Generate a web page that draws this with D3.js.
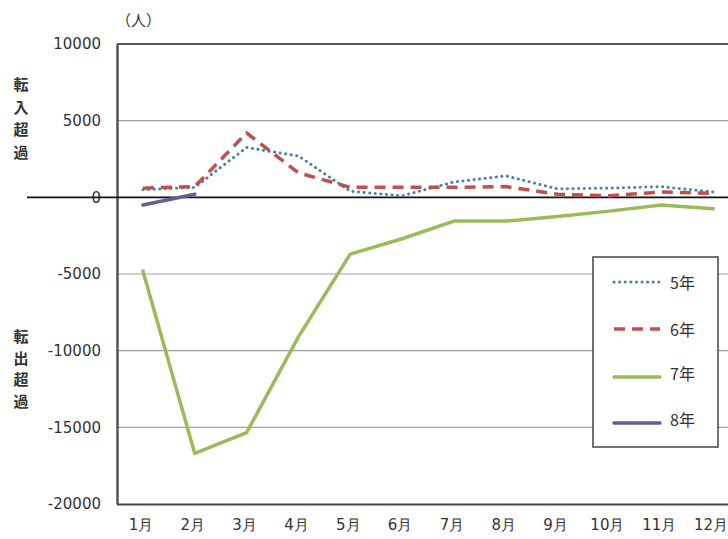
<!DOCTYPE html>
<html><head><meta charset="utf-8">
<script src="https://cdn.jsdelivr.net/npm/d3@7"></script>
<style>body{margin:0;background:#fff;} svg{display:block;}</style>
</head><body>
<svg id="c" width="728" height="539"></svg>
<script>
const months = ["1月","2月","3月","4月","5月","6月","7月","8月","9月","10月","11月","12月"];
const yTicks = [10000, 5000, 0, -5000, -10000, -15000, -20000];
const seriesNames = ["5年","6年","7年","8年"];
const s5 = [500, 650, 3250, 2700, 400, 100, 1000, 1400, 550, 600, 700, 350];
const s6 = [600, 700, 4200, 1600, 650, 650, 650, 700, 200, 100, 350, 250];
const s7 = [-4800, -16700, -15350, -9100, -3700, -2700, -1550, -1550, -1250, -900, -500, -750];
const s8 = [-500, 200];

const svg = d3.select("#c");
const font = "'DejaVu Sans', sans-serif";
const L = 117, T = 44, B = 504, R = 739;
const x = d3.scaleBand().domain(months).range([L, R]).paddingInner(0).paddingOuter(0);
const y = d3.scaleLinear().domain([-20000, 10000]).range([B, T]);
const cx = m => x(m) + x.bandwidth()/2;

// gridlines
svg.append("g").selectAll("line").data(yTicks.filter(v => v !== 0 && v !== 10000 && v !== -20000)).join("line")
  .attr("x1", L).attr("x2", 728).attr("y1", d => y(d)).attr("y2", d => y(d))
  .attr("stroke", "#a0a0a0").attr("stroke-width", 1.2);
// top border
svg.append("line").attr("x1", L).attr("x2", 728).attr("y1", T).attr("y2", T).attr("stroke", "#555").attr("stroke-width", 2);
// y axis
const yAxis = d3.axisLeft(y).tickValues(yTicks).tickSize(0).tickPadding(16).tickFormat(d => String(d));
const ga = svg.append("g").attr("transform", `translate(${L},0)`).call(yAxis);
ga.select(".domain").attr("stroke", "#555").attr("stroke-width", 2.5);
ga.selectAll("text").attr("font-family", font).attr("font-size", 15).attr("fill", "#333");
// x axis
const xAxis = d3.axisBottom(x).tickSize(0).tickPadding(15);
const gx = svg.append("g").attr("transform", `translate(0,${B})`).call(xAxis);
gx.select(".domain").attr("stroke", "#444").attr("stroke-width", 2).attr("d", `M${L},0.5H728`);
gx.selectAll("text").attr("font-family", font).attr("font-size", 15).attr("fill", "#333").attr("dx", -2);

// zero line
svg.append("line").attr("x1", 27).attr("x2", 728).attr("y1", y(0)).attr("y2", y(0)).attr("stroke", "#111").attr("stroke-width", 1.6);

const line = d3.line().x((d, i) => cx(months[i])).y(d => y(d));
const styles = [
  {data: s5, color: "#4a7fa8", width: 3, dash: "0.1 5.5", cap: "round"},
  {data: s6, color: "#c0504d", width: 3.5, dash: "11 7", cap: "butt"},
  {data: s7, color: "#9bbb59", width: 3.5, dash: null, cap: "round"},
  {data: s8, color: "#6b5b95", width: 3.5, dash: null, cap: "round"}
];
styles.forEach(s => {
  svg.append("path").datum(s.data).attr("d", line).attr("fill", "none")
    .attr("stroke", s.color).attr("stroke-width", s.width).attr("stroke-linecap", s.cap)
    .attr("stroke-linejoin", "round").attr("stroke-dasharray", s.dash);
});

// unit label
svg.append("text").attr("x", 116).attr("y", 26).attr("font-family", "'Noto Sans CJK JP', sans-serif").attr("font-size", 15).attr("fill", "#333").text("（人）");

// vertical labels
const vlab = (chars, ys) => chars.split("").forEach((c, i) => svg.append("text")
  .attr("x", 21).attr("y", ys[i]).attr("text-anchor", "middle").attr("dominant-baseline", "central")
  .attr("font-family", "'Noto Sans CJK JP', sans-serif").attr("font-weight", "bold").attr("font-size", 15).attr("fill", "#333").text(c));
vlab("転入超過", [83, 106, 128, 151]);
vlab("転出超過", [335, 357, 378, 400]);

// legend
const lg = svg.append("g");
lg.append("rect").attr("x", 593).attr("y", 257).attr("width", 125).attr("height", 190).attr("fill", "#fff").attr("stroke", "#444").attr("stroke-width", 1.5);
const ly = [282, 329, 377, 423];
styles.forEach((s, i) => {
  lg.append("line").attr("x1", 614).attr("x2", 660).attr("y1", ly[i]).attr("y2", ly[i])
    .attr("stroke", s.color).attr("stroke-width", s.width).attr("stroke-linecap", s.cap).attr("stroke-dasharray", s.dash);
  lg.append("text").attr("x", 670).attr("y", ly[i] - (i >= 2 ? 4 : 0)).attr("dominant-baseline", "central")
    .attr("font-family", "'Noto Sans CJK JP', sans-serif").attr("font-size", 16).attr("fill", "#333").text(seriesNames[i]);
});
</script>
</body></html>
